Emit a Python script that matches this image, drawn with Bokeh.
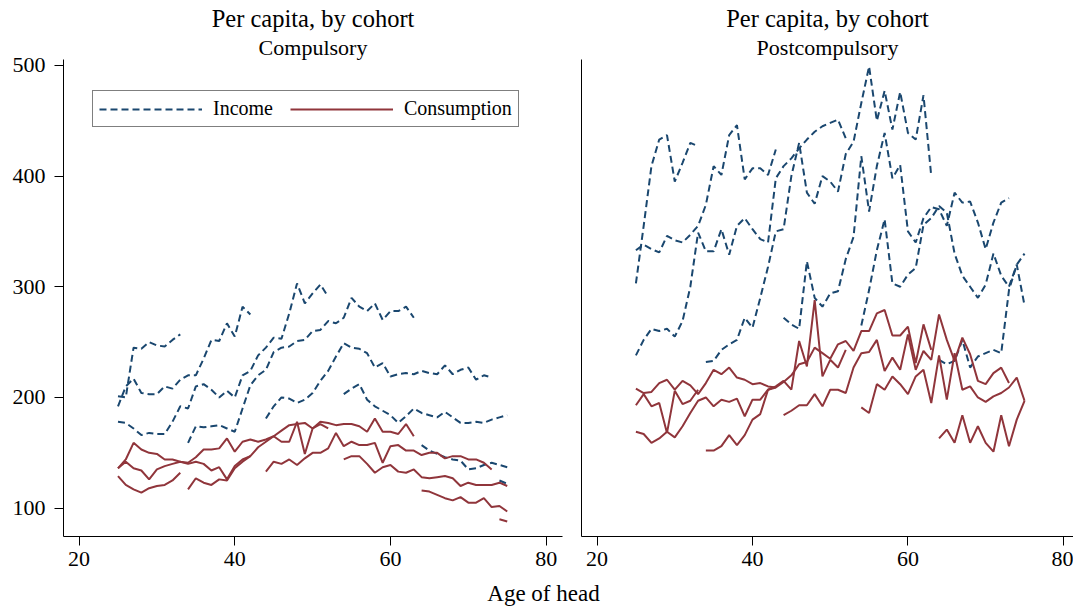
from bokeh.plotting import figure
from bokeh.layouts import row, column
from bokeh.models import Legend, LegendItem, Title, Range1d, FixedTicker, Spacer
from bokeh.core.properties import value
from bokeh.embed import file_html
from bokeh.resources import INLINE

FONT = "Liberation Serif"
NAVY = "#1a476f"
MAROON = "#90353b"

x_ticks = [20, 40, 60, 80]
y_ticks = [100, 200, 300, 400, 500]

# Each cohort is followed from its first observed age; values are per capita.
# ---------------- Compulsory ----------------
comp_inc_start = [25, 25, 25, 34, 44, 54, 64, 74]
comp_inc_vals = [
    [201, 200, 245, 244, 250, 247, 246, 252, 257],
    [192, 210, 217, 204, 203, 203, 210, 208, 216, 220, 220, 235, 252, 251, 267, 255, 282, 275],
    [178, 177, 172, 166, 168, 167, 167, 178, 192, 190, 210, 212, 207, 200, 206, 200, 220, 224,
     238, 245, 254, 253, 276, 303, 285, 294, 302, 291],
    [159, 174, 173, 174, 175, 172, 169, 190, 211, 220, 225, 241, 245, 246, 251, 252, 260, 261,
     269, 267, 272, 290, 282, 278, 285, 270, 278, 278, 282, 272],
    [181, 192, 200, 199, 195, 198, 204, 215, 224, 237, 249, 245, 244, 240, 227, 231, 219, 221,
     222, 221, 224, 222, 221, 229, 221, 225, 227, 216, 220, 218],
    [203, 208, 212, 198, 192, 188, 184, 177, 183, 190, 186, 184, 182, 187, 182, 177, 177, 178,
     177, 180, 182, 184],
    [157, 152, 149, 146, 144, 143, 135, 136, 139, 141, 139, 137],
    [125, 122],
]
comp_con_start = [25, 25, 25, 34, 44, 54, 64, 74]
comp_con_vals = [
    [129, 121, 117, 114, 118, 120, 121, 125, 132],
    [136, 142, 136, 134, 126, 135, 138, 140, 142, 140, 142, 140, 134, 137, 126, 138, 144, 147],
    [136, 144, 159, 153, 150, 149, 144, 144, 142, 141, 146, 153, 153, 154, 163, 151, 160, 162,
     160, 162, 165, 160, 160, 178, 149, 172, 176, 172],
    [117, 127, 123, 121, 126, 125, 136, 142, 147, 155, 160, 165, 170, 175, 176, 177, 172, 178,
     177, 175, 176, 176, 174, 169, 181, 169, 169, 167, 176, 165],
    [133, 142, 140, 144, 139, 145, 150, 150, 154, 168, 156, 160, 157, 157, 159, 141, 156, 157,
     152, 152, 148, 150, 150, 145, 147, 147, 144, 144, 141, 135],
    [144, 147, 147, 140, 132, 137, 139, 133, 132, 135, 128, 127, 128, 129, 127, 120, 123, 121,
     121, 121, 123, 120],
    [116, 115, 112, 109, 107, 110, 105, 105, 109, 101, 102, 97],
    [90, 88],
]
# ---------------- Postcompulsory ----------------
post_inc_start = [25, 25, 25, 34, 44, 54, 64]
post_inc_vals = [
    [303, 355, 409, 433, 437, 395, 412, 430, 427],
    [333, 338, 334, 331, 346, 342, 340, 347, 355, 374, 409, 401, 437, 446, 397, 407, 407, 401, 424],
    [238, 252, 262, 260, 262, 255, 269, 300, 349, 332, 332, 352, 329, 355, 362, 352, 343, 340,
     398, 409, 416, 425, 433, 440, 445, 448, 451, 434],
    [232, 233, 243, 248, 252, 272, 263, 290, 318, 350, 352, 400, 430, 385, 375, 400, 395, 386,
     420, 431, 466, 499, 450, 477, 442, 476, 439, 433, 473, 400],
    [272, 266, 262, 323, 290, 282, 294, 296, 325, 345, 418, 368, 409, 439, 398, 410, 350, 340,
     362, 372, 370, 355, 385, 376, 377, 358, 334, 358, 376, 380],
    [265, 297, 333, 361, 303, 300, 311, 317, 356, 362, 373, 367, 330, 310, 300, 290, 302, 330,
     310, 300, 320, 283],
    [234, 230, 233, 252, 227, 237, 240, 243, 240, 297, 320, 330],
]
post_con_start = [25, 25, 25, 34, 44, 54, 64]
post_con_vals = [
    [193, 203, 192, 195, 168, 206, 194, 197, 207],
    [208, 204, 205, 213, 216, 207, 215, 211, 203, 213, 225, 221, 227, 218, 216, 212, 213, 210, 209],
    [169, 167, 159, 163, 169, 164, 174, 186, 197, 200, 192, 198, 196, 199, 183, 198, 198, 207,
     210, 215, 207, 251, 228, 288, 219, 234, 227, 243],
    [152, 152, 156, 166, 157, 166, 180, 185, 207, 209, 214, 220, 230, 232, 245, 240, 235, 248,
     251, 242, 260, 260, 276, 279, 256, 256, 264, 231, 266, 243],
    [184, 188, 193, 193, 203, 192, 207, 207, 204, 227, 240, 241, 252, 224, 236, 225, 257, 225,
     242, 234, 275, 252, 233, 254, 239, 215, 212, 222, 227, 213],
    [191, 186, 212, 207, 219, 212, 203, 219, 225, 195, 238, 198, 240, 207, 210, 200, 196, 201,
     204, 209, 218, 197],
    [163, 171, 159, 184, 159, 174, 159, 151, 184, 156, 180, 197],
]


def segs(starts, vals):
    xs = [list(range(s, s + len(v))) for s, v in zip(starts, vals)]
    return xs, [list(v) for v in vals]


def style_axis(ax, standoff):
    ax.axis_line_color = "black"
    ax.axis_line_width = 1
    ax.major_tick_line_color = "black"
    ax.major_tick_out = 9
    ax.major_tick_in = 0
    ax.minor_tick_line_color = None
    ax.major_label_text_font = FONT
    ax.major_label_text_font_size = "22px"
    ax.major_label_text_color = "black"
    ax.major_label_standoff = standoff


def panel(title2, inc_s, inc_v, con_s, con_v, left, right, x_end, width, show_y, with_legend):
    p = figure(width=width, height=578, output_backend="svg", toolbar_location=None,
               title=None,
               x_range=Range1d(18.0, x_end), y_range=Range1d(74.4, 505.3),
               min_border_left=left, min_border_right=right,
               min_border_top=59, min_border_bottom=42)
    p.outline_line_color = None
    p.grid.visible = False
    p.background_fill_color = "white"
    p.border_fill_color = "white"
    p.xaxis.ticker = FixedTicker(ticks=x_ticks)
    style_axis(p.xaxis[0], 6)
    style_axis(p.yaxis[0], 9)
    if show_y:
        p.yaxis.ticker = FixedTicker(ticks=y_ticks)
    else:
        p.yaxis.ticker = FixedTicker(ticks=[])
        p.yaxis.major_label_text_font_size = "0px"
        p.yaxis.major_tick_out = 0
        p.yaxis.major_label_standoff = 0

    ixs, iys = segs(inc_s, inc_v)
    cxs, cys = segs(con_s, con_v)
    r_inc = p.multi_line(ixs, iys, line_color=NAVY, line_width=2, line_dash="7 4")
    r_con = p.multi_line(cxs, cys, line_color=MAROON, line_width=2)

    p.add_layout(Title(text=title2, align="center", text_font=FONT, text_font_size="22px",
                       text_font_style="normal", text_color="black", standoff=0), "above")
    p.add_layout(Title(text="Per capita, by cohort", align="center", text_font=FONT,
                       text_font_size="24.5px", text_font_style="normal", text_color="black",
                       standoff=1), "above")
    if with_legend:
        leg = Legend(items=[LegendItem(label="Income", renderers=[r_inc]),
                            LegendItem(label="Consumption", renderers=[r_con])],
                     orientation="horizontal", location=(29, 409))
        leg.label_text_font = FONT
        leg.label_text_font_size = "20px"
        leg.label_text_color = "black"
        leg.glyph_width = 103
        leg.glyph_height = 20
        leg.label_standoff = 11
        leg.spacing = 17
        leg.padding = 6
        leg.margin = 0
        leg.border_line_color = "black"
        leg.border_line_width = 1
        leg.background_fill_color = "white"
        p.add_layout(leg, "center")
    return p


p1 = panel("Compulsory", comp_inc_start, comp_inc_vals, comp_con_start, comp_con_vals,
           left=63, right=8, x_end=82.1, width=570, show_y=True, with_legend=True)
p2 = panel("Postcompulsory", post_inc_start, post_inc_vals, post_con_start, post_con_vals,
           left=11, right=0, x_end=81.3, width=503, show_y=False, with_legend=False)

p3 = figure(width=200, height=30, output_backend="svg", toolbar_location=None,
            x_range=Range1d(0, 1), y_range=Range1d(0, 1),
            min_border=0, x_axis_location=None, y_axis_location=None)
p3.outline_line_color = None
p3.grid.visible = False
p3.text(x=[0.5], y=[0.5], text=["Age of head"], text_font=value(FONT),
        text_font_size="23px", text_align="center", text_baseline="middle",
        text_color="black")

layout = column(row(p1, p2), row(Spacer(width=443, height=30), p3))

with open("out.html", "w") as f:
    f.write(file_html(layout, INLINE))
